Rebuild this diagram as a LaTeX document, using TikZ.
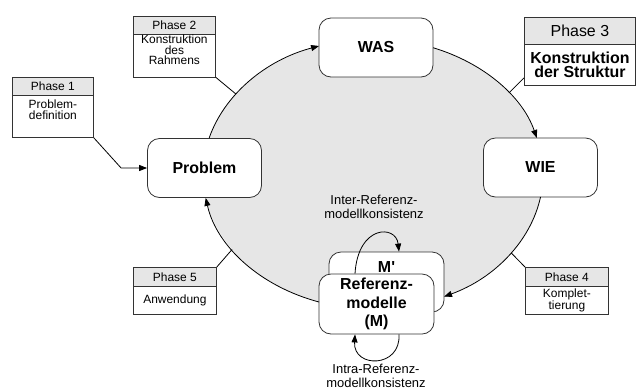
\documentclass[tikz,border=0pt]{standalone}
\usepackage{fontspec}
\setmainfont{Liberation Sans}
\usetikzlibrary{arrows.meta,calc}
\definecolor{fillgray}{HTML}{E6E6E6}
\definecolor{edge}{HTML}{333333}
\begin{document}
\begin{tikzpicture}[x=1bp,y=-1bp,
  line width=0.8bp,
  mainbox/.style={draw=edge, fill=white, rounded corners=12bp,
    minimum width=114bp, minimum height=59bp, align=center, inner sep=0pt,
    font=\fontsize{16}{18.3}\selectfont\bfseries},
  boldlbl/.style={inner sep=0pt, font=\fontsize{16}{18.3}\selectfont\bfseries},
  phead/.style={draw=edge, fill=fillgray, minimum height=19bp, inner sep=0pt,
    anchor=north west, font=\fontsize{12}{11}\selectfont},
  pbody/.style={draw=edge, fill=white, inner sep=0pt, anchor=north west,
    align=center, font=\fontsize{12}{11}\selectfont},
  conn/.style={draw=black, line width=0.8bp},
  tip/.style={-{Triangle[length=8bp,width=6bp]}},
  note/.style={align=center, inner sep=0pt, font=\fontsize{13}{14.5}\selectfont}
]
\useasboundingbox (0,0) rectangle (636,387);

% grey cycle area
\coordinate (E) at (373,174);
\fill[fillgray] (E) ellipse [x radius=170, y radius=135];

% phase labels
\node[phead, minimum width=81bp, minimum height=18bp] (p1h) at (12,77) {Phase 1};
\node[pbody, minimum width=81bp, minimum height=42bp] (p1b) at (12,95) {Problem-\\definition\\[2bp]};

\node[phead, minimum width=82bp, minimum height=18bp] (p2h) at (133,16) {Phase 2};
\node[pbody, minimum width=82bp, minimum height=42bp] (p2b) at (133,34) {Konstruktion\\des\\Rahmens\\[1bp]};

\node[phead, minimum width=111bp, minimum height=27bp, font=\fontsize{16}{18}\selectfont] (p3h) at (524,17) {Phase 3};
\node[pbody, minimum width=111bp, minimum height=41bp, font=\fontsize{16}{14.5}\selectfont\bfseries] (p3b) at (524,44) {Konstruktion\\der Struktur};

\node[phead, minimum width=83bp] (p4h) at (525,267) {Phase 4};
\node[pbody, minimum width=83bp, minimum height=28bp] (p4b) at (525,286) {Komplet-\\tierung};

\node[phead, minimum width=83bp] (p5h) at (133,267) {Phase 5};
\node[pbody, minimum width=83bp, minimum height=28bp] (p5b) at (133,286) {Anwendung};

% process steps
\node[mainbox] (prob) at (204.5,168) {Problem};
\node[mainbox] (was) at (376,47.5) {WAS};
\node[mainbox] (wie) at (540.5,167.5) {WIE};
\node[mainbox, minimum width=115bp, minimum height=60bp] (mp) at (386.5,282) {};
\node[boldlbl] (mplbl) at ($(mp.north)+(0,15)$) {M\textquotesingle};
\node[mainbox, minimum width=115bp, minimum height=60bp] (ref) at (376.5,304) {Referenz-\\modelle\\(M)};

% cycle arcs along the ellipse
\draw[conn, tip] ($(E)+(195.5:170 and 135)$) arc[start angle=195.5, end angle=251.5, x radius=170, y radius=135];
\draw[conn, tip] ($(E)+(290.7:170 and 135)$) arc[start angle=290.7, end angle=344.5, x radius=170, y radius=135];
\draw[conn, tip] ($(E)+(9.8:170 and 135)$) arc[start angle=9.8, end angle=65.3, x radius=170, y radius=135];
\draw[conn, tip] ($(E)+(108.5:170 and 135)$) arc[start angle=108.5, end angle=169.8, x radius=170, y radius=135];

% phase connectors
\coordinate (c2) at ($(E)+(216.3:170 and 135)$);
\coordinate (c3) at ($(E)+(323.1:170 and 135)$);
\coordinate (c4) at ($(E)+(35.7:170 and 135)$);
\coordinate (c5) at ($(E)+(146:170 and 135)$);
\draw[conn] (p2b.south east) -- (c2);
\draw[conn] ($(p3b.south west)+(0,-8)$) -- (c3);
\draw[conn] (p4h.north west) -- (c4);
\draw[conn] (p5h.north east) -- (c5);
\draw[conn, tip] (p1b.south east) -- ($(prob.west)+(-26,0)$) -- (prob.west);

% consistency loops
\draw[conn, tip] ($(ref.north)+(-21.5,0)$) .. controls ($(ref.north)+(-18.5,-49)$) and ($(mp.north)+(9.5,-27)$) .. ($(mp.north)+(12.5,0)$);
\draw[conn, tip] ($(ref.south)+(22.5,0)$) .. controls ($(ref.south)+(24.5,34)$) and ($(ref.south)+(-23.5,34)$) .. ($(ref.south)+(-21.5,0)$);

\node[note] (inter) at (374,207) {Inter-Referenz-\\modellkonsistenz};
\node[note] (intra) at (376,376) {Intra-Referenz-\\modellkonsistenz};
\end{tikzpicture}
\end{document}
